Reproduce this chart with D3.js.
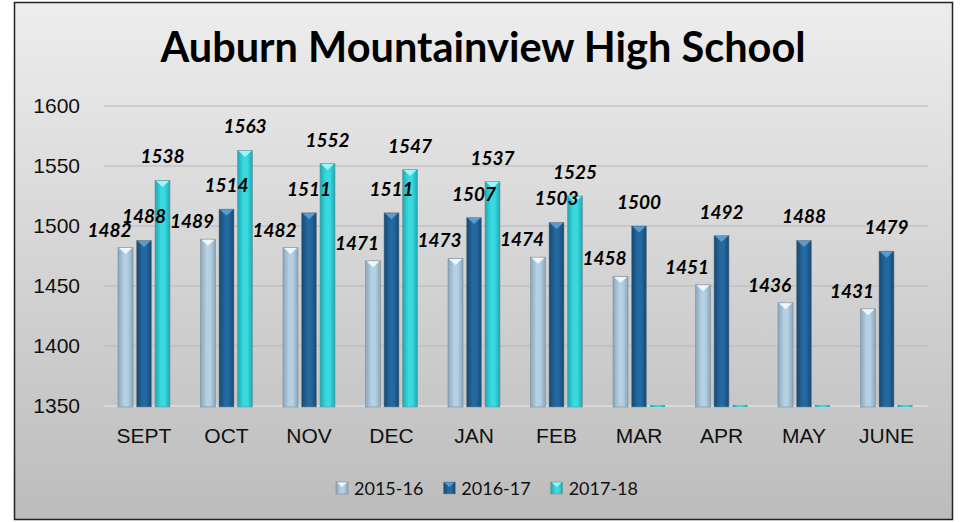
<!DOCTYPE html>
<html>
<head>
<meta charset="utf-8">
<script src="https://cdn.jsdelivr.net/npm/d3@7"></script>
<style>
  html, body { margin: 0; padding: 0; background: #fff; }
  svg { display: block; font-family: Lato, 'Open Sans', sans-serif; }
</style>
</head>
<body>
<div id="chart"></div>
<script>
const months = ['SEPT', 'OCT', 'NOV', 'DEC', 'JAN', 'FEB', 'MAR', 'APR', 'MAY', 'JUNE'];
const seriesNames = ['2015-16', '2016-17', '2017-18'];
const values2015 = [1482, 1489, 1482, 1471, 1473, 1474, 1458, 1451, 1436, 1431];
const values2016 = [1488, 1514, 1511, 1511, 1507, 1503, 1500, 1492, 1488, 1479];
const values2017 = [1538, 1563, 1552, 1547, 1537, 1525, null, null, null, null];
const yTicks = [1350, 1400, 1450, 1500, 1550, 1600];

const width = 961;
const height = 522;

// edge / mid / top colours for each series
const palette = [
  { edge: '#88a7bd', mid: '#b4d0e2', top: '#eef8fc' },
  { edge: '#154870', mid: '#2468a0', top: '#5a9ccc' },
  { edge: '#1aa9b2', mid: '#3ad9df', top: '#9ff6f6' }
];

const data = months.map((m, i) => ({
  month: m,
  values: [values2015[i], values2016[i], values2017[i]].map((v, j) => ({
    series: seriesNames[j],
    idx: j,
    value: v
  }))
}));

const svg = d3
  .select('#chart')
  .append('svg')
  .attr('width', width)
  .attr('height', height);

const defs = svg.append('defs');

const bg = defs
  .append('linearGradient')
  .attr('id', 'bg')
  .attr('x1', 0).attr('y1', 0).attr('x2', 0).attr('y2', 1);
bg.append('stop').attr('offset', '0%').attr('stop-color', '#ededed');
bg.append('stop').attr('offset', '100%').attr('stop-color', '#bcbcbc');

palette.forEach((p, i) => {
  const g = defs
    .append('linearGradient')
    .attr('id', `bar-${i}`)
    .attr('x1', 0).attr('y1', 0).attr('x2', 1).attr('y2', 0);
  g.append('stop').attr('offset', '0%').attr('stop-color', p.edge);
  g.append('stop').attr('offset', '40%').attr('stop-color', p.mid);
  g.append('stop').attr('offset', '65%').attr('stop-color', p.mid);
  g.append('stop').attr('offset', '100%').attr('stop-color', p.edge);
});

/* Frame */
svg
  .append('rect')
  .attr('x', 14.5)
  .attr('y', 2.5)
  .attr('width', 938)
  .attr('height', 517)
  .attr('fill', 'url(#bg)')
  .attr('stroke', '#222')
  .attr('stroke-width', 1.5);

/* Title */
svg
  .append('text')
  .attr('x', 483)
  .attr('y', 62)
  .attr('text-anchor', 'middle')
  .style('font-size', '41.5px')
  .style('font-weight', 'bold')
  .attr('fill', '#000')
  .text('Auburn Mountainview High School');

/* Scales */
const xScale = d3
  .scaleBand()
  .domain(months)
  .range([102.75, 927.75]);

const xInner = d3
  .scaleBand()
  .domain(seriesNames)
  .range([-27.75, 27.75]);

const yScale = d3
  .scaleLinear()
  .domain([1350, 1600])
  .range([406, 106]);

const barWidth = 15;

/* Grid + y axis */
const yAxis = d3
  .axisLeft(yScale)
  .tickValues(yTicks)
  .tickSize(0)
  .tickPadding(24)
  .tickFormat(d3.format('d'));

svg
  .append('g')
  .attr('class', 'y axis')
  .attr('transform', 'translate(104, 0)')
  .call(yAxis)
  .call(g => g.select('.domain').remove())
  .call(g => g.selectAll('text')
    .style('font-size', '21px')
    .attr('fill', '#111'));

svg
  .append('g')
  .attr('class', 'grid')
  .selectAll('line')
  .data(yTicks)
  .enter()
  .append('line')
  .attr('x1', 104)
  .attr('x2', 928)
  .attr('y1', d => yScale(d))
  .attr('y2', d => yScale(d))
  .attr('stroke', d => (d === 1350 ? '#ececec' : '#b8b8b8'))
  .attr('stroke-width', 1.2);

/* Bars */
const groups = svg
  .append('g')
  .attr('class', 'bars')
  .selectAll('g')
  .data(data)
  .enter()
  .append('g')
  .attr('transform', d => `translate(${xScale(d.month) + xScale.bandwidth() / 2}, 0)`);

const barX = d => xInner(d.series) + (xInner.bandwidth() - barWidth) / 2;

groups
  .selectAll('rect.bar')
  .data(d => d.values)
  .enter()
  .append('rect')
  .attr('class', 'bar')
  .attr('x', barX)
  .attr('y', d => (d.value === null ? yScale(1350) - 1 : yScale(d.value)))
  .attr('width', barWidth)
  .attr('height', d => (d.value === null ? 2 : yScale(1350) - yScale(d.value) + 1))
  .attr('fill', d => `url(#bar-${d.idx})`)
  .attr('stroke', d => (d.value === null ? 'none' : '#7d8a94'))
  .attr('stroke-opacity', 0.7)
  .attr('stroke-width', 0.8);

groups
  .selectAll('path.cap')
  .data(d => d.values.filter(v => v.value !== null))
  .enter()
  .append('path')
  .attr('class', 'cap')
  .attr('d', d => {
    const x0 = barX(d);
    const y0 = yScale(d.value) + 0.5;
    return `M${x0 + 1},${y0} L${x0 + barWidth - 1},${y0} L${x0 + barWidth / 2},${y0 + 6} Z`;
  })
  .attr('fill', d => palette[d.idx].top);

/* Value labels */
groups
  .selectAll('text.label')
  .data(d => d.values.filter(v => v.value !== null))
  .enter()
  .append('text')
  .attr('class', 'label')
  .attr('x', d => barX(d) + barWidth / 2 + (d.idx === 0 ? -16 : 0))
  .attr('y', d => yScale(d.value) - (d.idx === 0 ? 11 : 17))
  .attr('text-anchor', 'middle')
  .style('font-size', '19px')
  .style('font-weight', 'bold')
  .style('font-style', 'italic')
  .attr('fill', '#000')
  .text(d => d.value);

/* X axis */
const xAxis = d3.axisBottom(xScale).tickSize(0).tickPadding(22);

svg
  .append('g')
  .attr('class', 'x axis')
  .attr('transform', `translate(0, ${yScale(1350)})`)
  .call(xAxis)
  .call(g => g.select('.domain').remove())
  .call(g => g.selectAll('text')
    .style('font-size', '21px')
    .attr('fill', '#111'));

/* Legend */
const legend = svg.append('g').attr('class', 'legend');

const items = legend
  .selectAll('g')
  .data(seriesNames)
  .enter()
  .append('g');

items
  .append('rect')
  .attr('y', 482)
  .attr('width', 12)
  .attr('height', 12)
  .attr('fill', (_, i) => `url(#bar-${i})`)
  .attr('stroke', '#8a8a8a')
  .attr('stroke-width', 0.6);

items
  .append('path')
  .attr('d', 'M1,482.5 L11,482.5 L6,487 Z')
  .attr('fill', (_, i) => palette[i].top);

items
  .append('text')
  .attr('x', 18)
  .attr('y', 494.5)
  .style('font-size', '18px')
  .attr('fill', '#111')
  .text(d => d);

let offset = 0;
const offsets = [];
items.each(function() {
  offsets.push(offset);
  const w = d3.select(this).select('text').node().getComputedTextLength();
  offset += 18 + w + 20;
});
const total = offset - 20;
items.attr('transform', (_, i) => `translate(${487 - total / 2 + offsets[i]}, 0)`);
</script>
</body>
</html>
